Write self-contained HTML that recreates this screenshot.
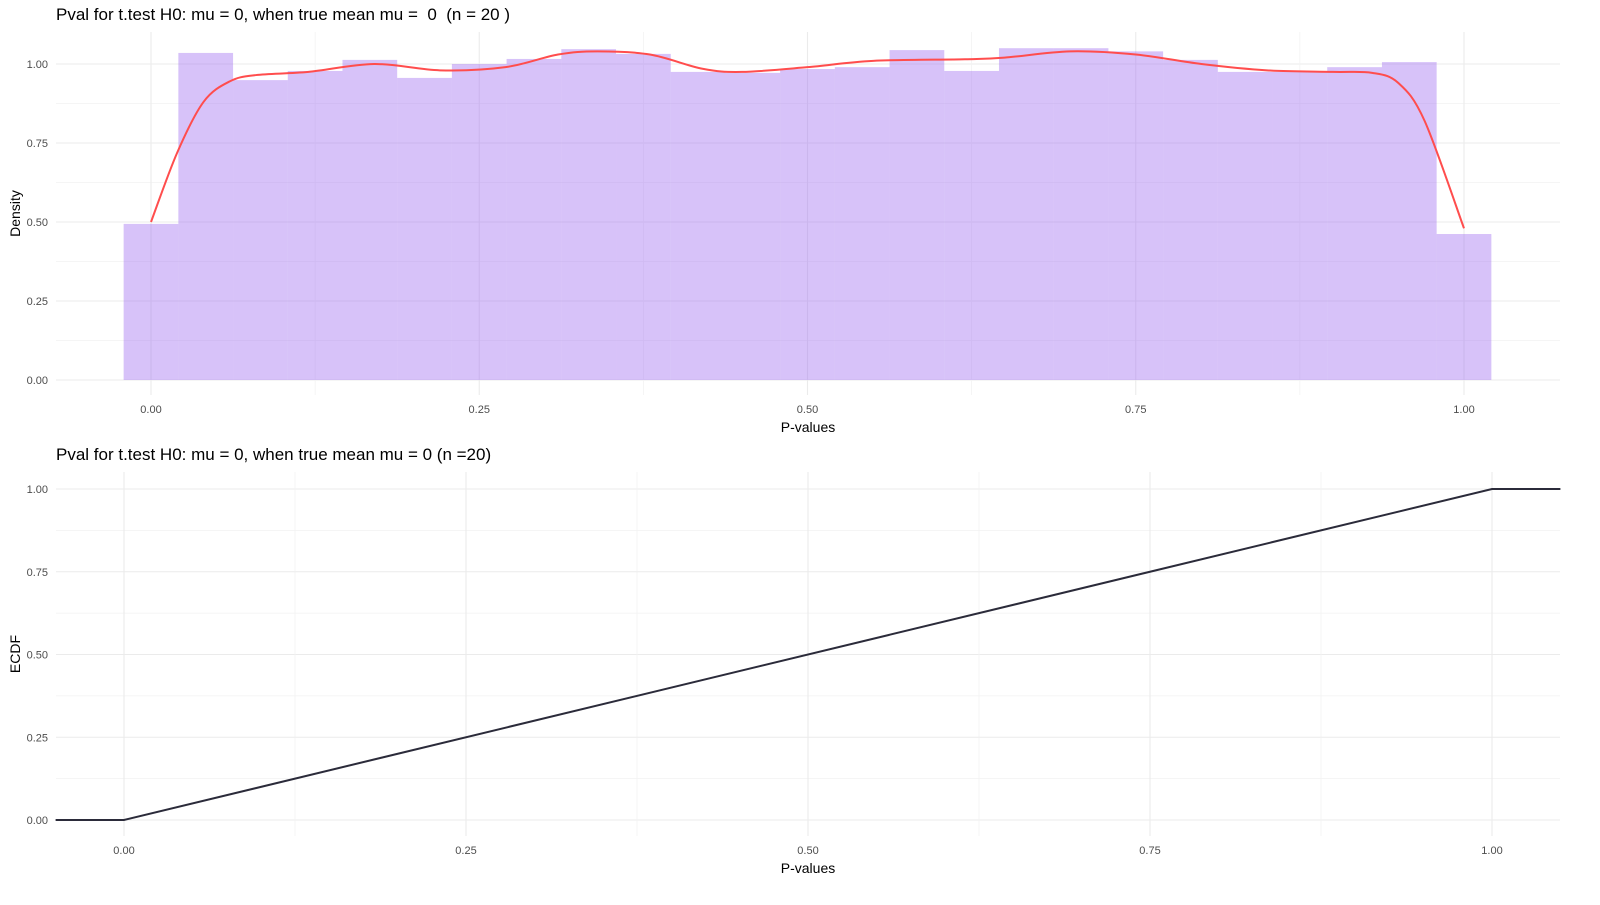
<!DOCTYPE html>
<html><head><meta charset="utf-8"><style>
body{margin:0;background:#fff;width:1600px;height:900px;overflow:hidden;font-family:"Liberation Sans",Arial,sans-serif}
text{white-space:pre}
</style></head><body>
<svg id="c" width="1600" height="900" xmlns="http://www.w3.org/2000/svg"></svg>
<script>
const binCenters=[0,1/24,2/24,3/24,4/24,5/24,6/24,7/24,8/24,9/24,10/24,11/24,12/24,13/24,14/24,15/24,16/24,17/24,18/24,19/24,20/24,21/24,22/24,23/24,1];
const binDensity=[0.494,1.035,0.949,0.978,1.013,0.956,1.0,1.016,1.047,1.032,0.975,0.972,0.984,0.99,1.044,0.978,1.05,1.05,1.04,1.013,0.975,0.975,0.99,1.006,0.462];
const kdeX=[0,0.02,0.04,0.06,0.08,0.12,0.17,0.22,0.27,0.31,0.34,0.38,0.42,0.45,0.5,0.55,0.62,0.65,0.7,0.75,0.8,0.85,0.9,0.93,0.95,0.97,1.0];
const kdeY=[0.5,0.72,0.88,0.945,0.965,0.975,1.0,0.98,0.99,1.03,1.04,1.03,0.985,0.975,0.99,1.01,1.015,1.02,1.04,1.03,1.0,0.98,0.975,0.972,0.94,0.82,0.48];
const ecdfX=[-0.05,0,1,1.05];
const ecdfY=[0,0,1,1];
const yTicks=[0,0.25,0.5,0.75,1];
const yTickLabels=["0.00","0.25","0.50","0.75","1.00"];
const xTicks=[0,0.25,0.5,0.75,1];
const xTickLabels=["0.00","0.25","0.50","0.75","1.00"];
const svg=document.getElementById('c');const NS='http://www.w3.org/2000/svg';
function el(t,a,p){const e=document.createElementNS(NS,t);for(const k in a)e.setAttribute(k,a[k]);(p||svg).appendChild(e);return e;}
function smooth(pts){let d='M'+pts[0][0]+','+pts[0][1];for(let i=0;i<pts.length-1;i++){const p0=pts[Math.max(0,i-1)],p1=pts[i],p2=pts[i+1],p3=pts[Math.min(pts.length-1,i+2)];d+='C'+(p1[0]+(p2[0]-p0[0])/6)+','+(p1[1]+(p2[1]-p0[1])/6)+' '+(p2[0]-(p3[0]-p1[0])/6)+','+(p2[1]-(p3[1]-p1[1])/6)+' '+p2[0]+','+p2[1];}return d;}
function panel(o){
  const g=el('g',{});
  
  
  const X=v=>o.x0+(o.x1-o.x0)*v, Y=v=>o.y0+(o.y1-o.y0)*v;
  for(let i=0;i<yTicks.length;i++){
    const v=yTicks[i];
    el('line',{x1:o.l,x2:o.r,y1:Y(v),y2:Y(v),stroke:'#ebebeb','stroke-width':1.1},g);
    if(i<yTicks.length-1)el('line',{x1:o.l,x2:o.r,y1:Y(v+0.125),y2:Y(v+0.125),stroke:'#f2f2f2','stroke-width':0.8},g);
    const t=el('text',{x:o.l-8,y:Y(v)+4,'text-anchor':'end','font-size':11,fill:'#4d4d4d'},g);t.textContent=yTickLabels[i];
    
    
  }
  for(let i=0;i<xTicks.length;i++){
    const v=xTicks[i];
    el('line',{x1:X(v),x2:X(v),y1:o.t,y2:o.b,stroke:'#ebebeb','stroke-width':1.1},g);
    const t=el('text',{x:X(v),y:o.b+18,'text-anchor':'middle','font-size':11,fill:'#4d4d4d'},g);t.textContent=xTickLabels[i];
    
    
  }
  for(let v=-0.125;v<=1.2;v+=0.25){const px=X(v);if(px>o.l&&px<o.r)el('line',{x1:px,x2:px,y1:o.t,y2:o.b,stroke:'#f2f2f2','stroke-width':0.8},g);}
  const tt=el('text',{x:56,y:o.t-12,'font-size':17,fill:'#000'},g);tt.textContent=o.title;
  
  
  const xt=el('text',{x:(o.l+o.r)/2,y:o.b+37,'text-anchor':'middle','font-size':14,fill:'#000'},g);xt.textContent='P-values';
  
  
  const yt=el('text',{x:0,y:0,'text-anchor':'middle','font-size':14,fill:'#000',transform:`translate(20,${(o.t+o.b)/2}) rotate(-90)`},g);yt.textContent=o.ylab;
  
  
  return {g,X,Y};
}
const p1=panel({name:'histogram-panel',l:56,r:1560,t:32,b:395,x0:151,x1:1464,y0:380,y1:64,title:'Pval for t.test H0: mu = 0, when true mean mu =  0  (n = 20 )',ylab:'Density'});
const w=1/24;
binCenters.forEach((c,i)=>{
  const x=p1.X(c-w/2),x2=p1.X(c+w/2),y=p1.Y(binDensity[i]);
  const r=el('rect',{x:x,y:y,width:x2-x,height:p1.Y(0)-y,fill:'#a06ef0','fill-opacity':0.42},p1.g);
  
  
});
const kd=el('path',{d:smooth(kdeX.map((v,i)=>[p1.X(v),p1.Y(kdeY[i])])),fill:'none',stroke:'#ff4d4d','stroke-width':2},p1.g);


const p2=panel({name:'ecdf-panel',l:56,r:1560,t:472,b:836,x0:124,x1:1492,y0:820,y1:489,title:'Pval for t.test H0: mu = 0, when true mean mu = 0 (n =20)',ylab:'ECDF'});
const ec=el('path',{d:ecdfX.map((v,i)=>(i?'L':'M')+p2.X(v)+','+p2.Y(ecdfY[i])).join(''),fill:'none',stroke:'#2b2b3a','stroke-width':2},p2.g);


</script>
</body></html>
